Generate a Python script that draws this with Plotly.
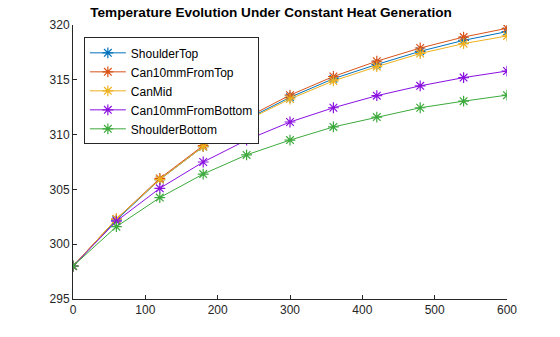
import plotly.graph_objects as go

time_s = [0, 60, 120, 180, 240, 300, 360, 420, 480, 540, 600]
shoulder_top = [298, 302.2, 305.9, 308.9, 311.4, 313.4, 315.1, 316.4, 317.6, 318.6, 319.4]
can10_top = [298, 302.3, 306.0, 309.0, 311.55, 313.6, 315.3, 316.7, 317.9, 318.9, 319.7]
can_mid = [298, 302.3, 305.9, 308.9, 311.3, 313.25, 314.9, 316.2, 317.4, 318.3, 319.0]
can10_bottom = [298, 302.1, 305.1, 307.5, 309.5, 311.15, 312.45, 313.55, 314.45, 315.2, 315.8]
shoulder_bottom = [298, 301.6, 304.25, 306.4, 308.15, 309.5, 310.7, 311.6, 312.45, 313.05, 313.6]

names = ["ShoulderTop", "Can10mmFromTop", "CanMid", "Can10mmFromBottom", "ShoulderBottom"]
series = [shoulder_top, can10_top, can_mid, can10_bottom, shoulder_bottom]
colors = ["#0072BD", "#D95319", "#EDB120", "#8A11E0", "#3DAA3D"]

fig = go.Figure()
for n, s, c in zip(names, series, colors):
    fig.add_trace(go.Scatter(
        x=time_s, y=s, name=n, mode="lines+markers",
        line=dict(color=c, width=1),
        marker=dict(symbol="asterisk-open", size=9, color=c, line=dict(color=c, width=1.2)),
    ))

font_fam = "Liberation Sans, Arial, sans-serif"
axis_common = dict(
    showgrid=False, zeroline=False, showline=True, linecolor="#262626", linewidth=1,
    ticks="inside", ticklen=4, tickcolor="#262626",
    tickfont=dict(family=font_fam, size=12, color="#262626"),
    mirror=False,
)
fig.update_xaxes(range=[0, 600], tickvals=[0, 100, 200, 300, 400, 500, 600], **axis_common)
fig.update_yaxes(range=[295, 320], tickvals=[295, 300, 305, 310, 315, 320], **axis_common)

fig.update_layout(
    width=560, height=337,
    margin=dict(l=73, r=53, t=25, b=38),
    paper_bgcolor="white", plot_bgcolor="white",
    title=dict(text="<b>Temperature Evolution Under Constant Heat Generation</b>",
               x=0.484, xref="container", xanchor="center", y=0.977, yanchor="top",
               font=dict(family=font_fam, size=13.6, color="#000000")),
    legend=dict(x=0.025, y=0.955, xanchor="left", yanchor="top",
                bgcolor="white", bordercolor="#262626", borderwidth=1,
                font=dict(family=font_fam, size=12, color="#000000"),
                itemwidth=36, tracegroupgap=0),
    showlegend=True,
)

fig.write_html("out.html")
